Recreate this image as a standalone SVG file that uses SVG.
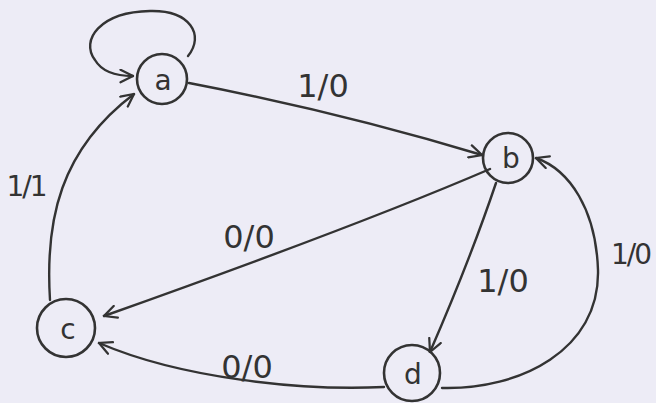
<svg xmlns="http://www.w3.org/2000/svg" width="656" height="403" viewBox="0 0 656 403">
<defs>
<style>
.node circle{fill:none;stroke:#333;stroke-width:2.6}
.node text{font-family:"DejaVu Sans",sans-serif;font-size:28px;fill:#333;text-anchor:middle}
.edges path{fill:none;stroke:#333;stroke-width:2.4;stroke-linecap:round}
.lbl{font-family:"DejaVu Sans",sans-serif;font-size:32px;fill:#333;text-anchor:middle}
</style>
<marker id="arr" viewBox="0 0 12 12" refX="11" refY="6" markerWidth="15" markerHeight="15" markerUnits="userSpaceOnUse" orient="auto">
<path d="M1,1 L11,6 L1,11" fill="none" stroke="#333" stroke-width="1.8" stroke-linecap="round"/>
</marker>
</defs>
<rect width="656" height="403" fill="#edecf6"/>
<g class="edges">
<path d="M188,56 C205,35 190,10 150,11 C100,12 80,40 95,60 C102,72 115,76 133,76" marker-end="url(#arr)"/>
<path d="M189,83 Q340,112 482,155" marker-end="url(#arr)"/>
<path d="M50,300 C45,220 60,150 134,94" marker-end="url(#arr)"/>
<path d="M490,169 Q360,225 104,316" marker-end="url(#arr)"/>
<path d="M384,387 C300,391 180,378 99,343" marker-end="url(#arr)"/>
<path d="M496,183 Q470,260 430,352" marker-end="url(#arr)"/>
<path d="M442,388 C520,390 600,350 598,270 C596,210 570,170 536,158" marker-end="url(#arr)"/>
</g>
<g id="node-a" class="node"><circle cx="162" cy="79" r="25"/><text x="163" y="90">a</text></g>
<g id="node-b" class="node"><circle cx="508" cy="158" r="25"/><text x="511" y="168">b</text></g>
<g id="node-c" class="node"><circle cx="66" cy="328" r="29"/><text x="68" y="339">c</text></g>
<g id="node-d" class="node"><circle cx="412" cy="373" r="28"/><text x="413" y="384">d</text></g>
<g id="labels">
<text class="lbl" x="26" y="196" style="font-size:28px;letter-spacing:-2px">1/1</text>
<text class="lbl" x="323" y="97">1/0</text>
<text class="lbl" x="249" y="248">0/0</text>
<text class="lbl" x="247" y="378">0/0</text>
<text class="lbl" x="503" y="292">1/0</text>
<text class="lbl" x="611" y="264" style="text-anchor:start;font-size:28px;letter-spacing:-2px">1/0</text>
</g>
</svg>
